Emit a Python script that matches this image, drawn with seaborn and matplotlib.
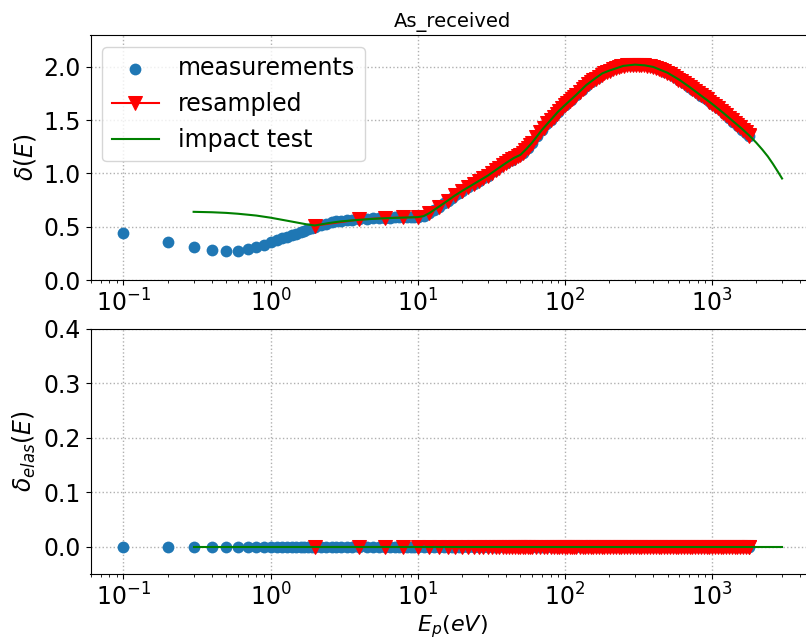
import matplotlib
matplotlib.use("Agg")
import matplotlib.pyplot as plt
import seaborn as sns
import numpy as np

# Secondary electron yield, "As_received" sample
meas_energy = [0.1, 0.2, 0.3, 0.4, 0.5, 0.6, 0.7, 0.8, 0.9, 1.0,
               1.1, 1.2, 1.3, 1.4, 1.5, 1.6, 1.7, 1.8, 1.9, 2.0,
               2.2, 2.4, 2.6, 2.8, 3.0, 3.3, 3.6, 4.0, 4.5, 5.0,
               5.5, 6.0, 6.5, 7.0, 7.5, 8.0, 8.5, 9.0, 9.5, 10.0,
               11, 12, 13, 14, 15, 16, 17, 18, 19, 20,
               22, 24, 26, 28, 30, 33, 36, 40, 44, 48,
               52, 56, 60, 65, 70, 75, 80, 85, 90, 95,
               100, 110, 120, 130, 140, 150, 165, 180, 200, 220,
               240, 260, 280, 300, 330, 360, 400, 440, 480, 520,
               560, 600, 650, 700, 750, 800, 850, 900, 950, 1000,
               1100, 1200, 1300, 1400, 1500, 1600, 1700, 1800]
meas_delta = [0.437, 0.358, 0.311, 0.283, 0.273, 0.273, 0.289, 0.308, 0.330, 0.355,
              0.375, 0.390, 0.405, 0.420, 0.435, 0.450, 0.463, 0.477, 0.490, 0.500,
              0.515, 0.528, 0.540, 0.550, 0.556, 0.562, 0.567, 0.572, 0.576, 0.579,
              0.582, 0.584, 0.585, 0.587, 0.588, 0.589, 0.590, 0.590, 0.590, 0.590,
              0.600, 0.625, 0.660, 0.690, 0.720, 0.745, 0.770, 0.795, 0.815, 0.835,
              0.870, 0.900, 0.925, 0.955, 0.980, 1.020, 1.060, 1.100, 1.130, 1.160,
              1.195, 1.240, 1.290, 1.350, 1.410, 1.460, 1.500, 1.540, 1.575, 1.610,
              1.640, 1.690, 1.740, 1.785, 1.825, 1.860, 1.900, 1.935, 1.965, 1.990,
              2.005, 2.015, 2.020, 2.022, 2.020, 2.015, 2.000, 1.980, 1.955, 1.930,
              1.905, 1.875, 1.845, 1.815, 1.785, 1.755, 1.730, 1.705, 1.680, 1.655,
              1.610, 1.565, 1.520, 1.480, 1.445, 1.410, 1.380, 1.350]
meas_elas = [0.0] * len(meas_energy)

# Yield resampled on even-eV energies
rs_energy = [2, 4, 6, 8, 10, 12, 14, 16, 18, 20,
             22, 24, 26, 28, 30, 32, 34, 36, 38, 40,
             42, 44, 46, 48, 50, 52, 54, 56, 58, 60,
             64, 68, 72, 76, 80, 84, 88, 92, 96, 100,
             104, 108, 112, 116, 120, 126, 132, 138, 144, 150,
             156, 162, 170, 178, 186, 194, 202, 212, 222, 232,
             242, 254, 266, 278, 290, 304, 318, 332, 348, 364,
             380, 398, 416, 434, 454, 474, 496, 518, 542, 566,
             592, 618, 646, 676, 706, 738, 772, 806, 842, 880,
             920, 962, 1004, 1050, 1096, 1146, 1198, 1252, 1308, 1366,
             1428, 1492, 1560, 1630, 1702, 1778, 1800]
rs_delta = [0.510, 0.568, 0.582, 0.588, 0.590, 0.628, 0.690, 0.745, 0.795, 0.835,
            0.870, 0.900, 0.925, 0.955, 0.980, 1.005, 1.030, 1.055, 1.080, 1.100,
            1.120, 1.135, 1.150, 1.162, 1.175, 1.195, 1.218, 1.242, 1.266, 1.290,
            1.340, 1.390, 1.430, 1.470, 1.500, 1.530, 1.560, 1.590, 1.615, 1.640,
            1.660, 1.680, 1.700, 1.720, 1.740, 1.765, 1.790, 1.815, 1.840, 1.860,
            1.875, 1.890, 1.910, 1.925, 1.940, 1.955, 1.965, 1.980, 1.990, 2.000,
            2.007, 2.012, 2.017, 2.020, 2.021, 2.022, 2.022, 2.020, 2.017, 2.012,
            2.006, 2.000, 1.992, 1.983, 1.972, 1.960, 1.945, 1.930, 1.913, 1.897,
            1.880, 1.864, 1.847, 1.830, 1.813, 1.795, 1.775, 1.755, 1.735, 1.715,
            1.695, 1.675, 1.655, 1.633, 1.612, 1.590, 1.567, 1.545, 1.522, 1.500,
            1.477, 1.455, 1.432, 1.408, 1.385, 1.360, 1.353]
rs_elas = [0.0] * len(rs_energy)

# Model curve from the impact test
imp_energy = [0.3, 0.4, 0.5, 0.6, 0.7, 0.8, 1.0, 1.2, 1.4, 1.6,
              1.8, 2.0, 2.5, 3, 4, 5, 6, 8, 10, 11,
              12, 14, 16, 18, 20, 25, 30, 35, 40, 45,
              50, 55, 60, 70, 80, 90, 100, 120, 140, 160,
              180, 200, 250, 300, 350, 400, 500, 600, 700, 800,
              1000, 1200, 1400, 1600, 1800, 2000, 2200, 2400, 2600, 2800, 3000]
imp_delta = [0.640, 0.636, 0.630, 0.622, 0.613, 0.605, 0.585, 0.565, 0.548, 0.533,
             0.520, 0.512, 0.535, 0.550, 0.565, 0.574, 0.580, 0.586, 0.590, 0.600,
             0.628, 0.690, 0.745, 0.795, 0.835, 0.915, 0.980, 1.045, 1.100, 1.145,
             1.175, 1.232, 1.290, 1.410, 1.500, 1.580, 1.640, 1.740, 1.830, 1.890,
             1.940, 1.965, 2.010, 2.022, 2.015, 2.000, 1.945, 1.880, 1.815, 1.755,
             1.655, 1.567, 1.488, 1.420, 1.355, 1.290, 1.225, 1.160, 1.090, 1.020, 0.953]
imp_elas = [0.0] * len(imp_energy)

FS = 17
W, H = 806, 642
fig = plt.figure(figsize=(W / 100, H / 100), dpi=100)
left, right = 90.5, 815.0
ax1 = fig.add_axes([left / W, 1 - 280 / H, (right - left) / W, 245 / H])
ax2 = fig.add_axes([left / W, 1 - 574 / H, (right - left) / W, 245 / H])

blue, red, green = "#1f77b4", "red", "green"

for ax, m_y, r_y, i_y in [(ax1, meas_delta, rs_delta, imp_delta),
                          (ax2, meas_elas, rs_elas, imp_elas)]:
    sns.scatterplot(x=meas_energy, y=m_y, ax=ax, color=blue, s=72,
                    linewidth=0, label="measurements", zorder=2)
    sns.lineplot(x=rs_energy, y=r_y, ax=ax, color=red, marker="v",
                 markersize=10, markeredgecolor=red, markerfacecolor=red,
                 linewidth=1.5, estimator=None, sort=False,
                 label="resampled", zorder=3)
    sns.lineplot(x=imp_energy, y=i_y, ax=ax, color=green, linewidth=1.5,
                 estimator=None, sort=False, label="impact test", zorder=4)
    ax.set_xscale("log")
    ax.grid(True, which="major", linestyle=":", color="#b0b0b0", linewidth=1.0)
    ax.tick_params(labelsize=FS)
    ax.set_xlabel("")
    ax.spines["right"].set_visible(False)

ax1.set_ylim(0, 2.3)
ax2.set_ylim(-0.05, 0.4)
ax1.set_ylabel(r"$\delta(E)$", fontsize=FS)
ax2.set_ylabel(r"$\delta_{elas}(E)$", fontsize=FS)
ax2.set_xlabel(r"$E_p(eV)$", fontsize=16, labelpad=2)
ax1.set_title("As_received", fontsize=14)

ax1.legend(loc="upper left", fontsize=FS)
if ax2.get_legend() is not None:
    ax2.get_legend().remove()

fig.savefig("out.png", dpi=100)
